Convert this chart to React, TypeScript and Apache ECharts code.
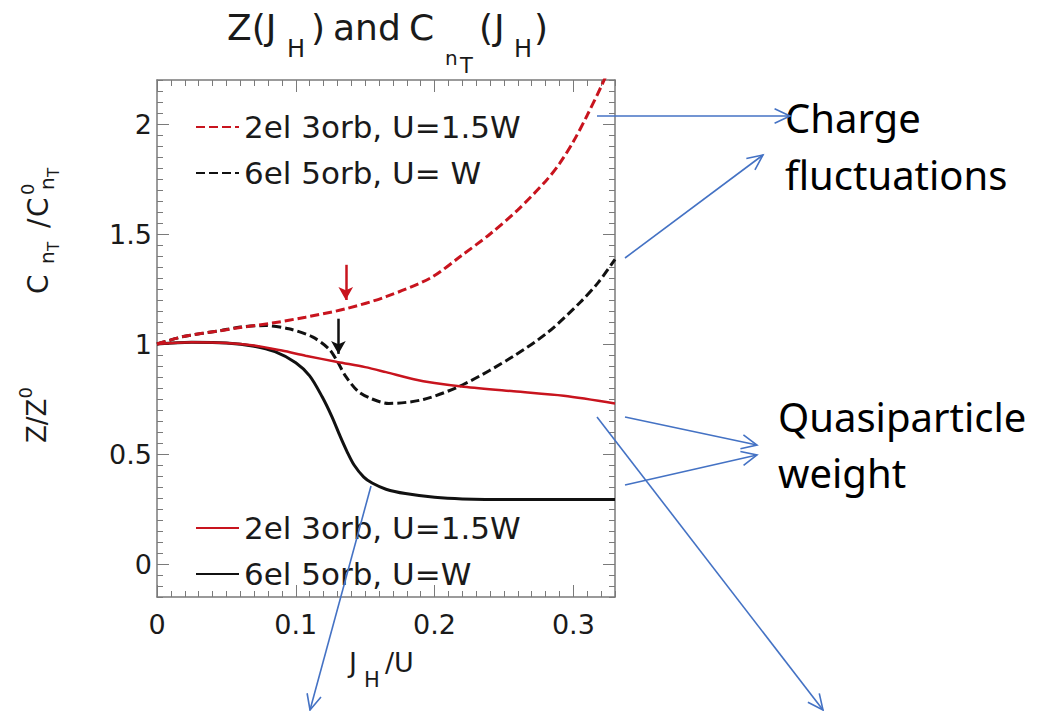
import React, { useEffect, useRef } from "react";
import * as echarts from "echarts";

// C_nT / C0_nT, 2el 3orb, U = 1.5W (red dashed)
const chargeRedX = [0, 0.02, 0.045, 0.06, 0.083, 0.107, 0.136, 0.165, 0.197, 0.219, 0.24, 0.26, 0.28, 0.29, 0.3, 0.31, 0.32, 0.33];
const chargeRedY = [1.0, 1.035, 1.06, 1.075, 1.095, 1.122, 1.16, 1.215, 1.3, 1.4, 1.5, 1.61, 1.74, 1.82, 1.92, 2.04, 2.17, 2.31];

// C_nT / C0_nT, 6el 5orb, U = W (black dashed)
const chargeBlackX = [0, 0.02, 0.045, 0.06, 0.078, 0.095, 0.112, 0.124, 0.13, 0.136, 0.145, 0.155, 0.167, 0.192, 0.221, 0.257, 0.282, 0.305, 0.318, 0.33];
const chargeBlackY = [1.0, 1.035, 1.06, 1.077, 1.084, 1.069, 1.032, 0.977, 0.92, 0.853, 0.784, 0.75, 0.73, 0.748, 0.817, 0.945, 1.055, 1.19, 1.28, 1.385];

// Z / Z0, 2el 3orb, U = 1.5W (red solid)
const weightRedX = [0, 0.025, 0.05, 0.07, 0.09, 0.107, 0.13, 0.15, 0.165, 0.185, 0.2, 0.221, 0.257, 0.293, 0.33];
const weightRedY = [1.0, 1.008, 1.005, 0.993, 0.97, 0.947, 0.918, 0.895, 0.872, 0.84, 0.823, 0.806, 0.785, 0.765, 0.73];

// Z / Z0, 6el 5orb, U = W (black solid)
const weightBlackX = [0, 0.025, 0.05, 0.07, 0.085, 0.1, 0.11, 0.119, 0.126, 0.132, 0.137, 0.142, 0.149, 0.155, 0.165, 0.179, 0.2, 0.22, 0.26, 0.33];
const weightBlackY = [1.0, 1.008, 1.005, 0.99, 0.965, 0.915, 0.855, 0.76, 0.67, 0.58, 0.51, 0.45, 0.395, 0.368, 0.34, 0.32, 0.303, 0.296, 0.293, 0.293];

// small markers pointing at the onset on each dashed curve: [x, yFrom, yTo]
const redOnsetArrow = [0.136, 1.36, 1.2];
const blackOnsetArrow = [0.1307, 1.115, 0.955];

const xMajorTicks = [0, 0.1, 0.2, 0.3];
const yMajorTicks = [0, 0.5, 1, 1.5, 2];

const legendLabels: Record<string, string> = {
  cRed: "2el 3orb, U=1.5W",
  cBlack: "6el 5orb, U= W",
  zRed: "2el 3orb, U=1.5W",
  zBlack: "6el 5orb, U=W",
};

const PLOT_FONT = "DejaVu Sans";
const NOTE_FONT = "Noto Sans";
const RED = "#c8141e";
const BLACK = "#111111";
const FRAME = "#7a7a7a";
const NOTE_BLUE = "#4472C4";
const INK = "#1a1a1a";

const pairs = (xs: number[], ys: number[]) => xs.map((x, i) => [x, ys[i]]);

let measureCtx: CanvasRenderingContext2D | null = null;
function measure(t: string, size: number, family: string) {
  if (!measureCtx) measureCtx = document.createElement("canvas").getContext("2d");
  if (!measureCtx) return t.length * size * 0.6;
  measureCtx.font = `${size}px "${family}"`;
  return measureCtx.measureText(t).width;
}

type Piece = { t: string; s: number; dy?: number; x?: number; gap?: number; hold?: boolean };

// lay out a run of text pieces (sub/superscripts) along a baseline
function run(pieces: Piece[], x0: number, baseline: number, family: string, color: string, k: number) {
  let cursor = x0;
  const out: any[] = [];
  for (const p of pieces) {
    const x = p.x !== undefined ? p.x : cursor;
    out.push({
      type: "text",
      x,
      y: baseline + (p.dy || 0) - k * p.s,
      silent: true,
      style: {
        text: p.t,
        fontSize: p.s,
        fontFamily: family,
        fill: color,
        align: "left",
        verticalAlign: "middle",
        textAlign: "left",
        textVerticalAlign: "middle",
      },
    });
    if (!p.hold) cursor = x + measure(p.t, p.s, family) + (p.gap || 0);
  }
  return out;
}

function arrow(x1: number, y1: number, x2: number, y2: number) {
  const ang = Math.atan2(y1 - y2, x1 - x2);
  const len = 17;
  const spread = (25 * Math.PI) / 180;
  const a = [x2 + len * Math.cos(ang + spread), y2 + len * Math.sin(ang + spread)];
  const b = [x2 + len * Math.cos(ang - spread), y2 + len * Math.sin(ang - spread)];
  return [
    { type: "line", z: 100, silent: true, shape: { x1, y1, x2, y2 }, style: { stroke: NOTE_BLUE, lineWidth: 1.6 } },
    { type: "polyline", z: 100, silent: true, shape: { points: [a, [x2, y2], b] }, style: { stroke: NOTE_BLUE, lineWidth: 1.6, fill: null } },
  ];
}

function buildOption() {
  const k = 0.35;
  const title = run(
    [
      { t: "Z(J", s: 36, x: 227 },
      { t: "H", s: 24, dy: 17, x: 287 },
      { t: ")", s: 36, x: 311 },
      { t: "and", s: 36, x: 333 },
      { t: "C", s: 36, x: 409 },
      { t: "n", s: 20, dy: 25, x: 445 },
      { t: "T", s: 21, dy: 33, x: 460 },
      { t: "(", s: 36, x: 479 },
      { t: "J", s: 36, x: 494 },
      { t: "H", s: 24, dy: 17, x: 514 },
      { t: ")", s: 36, x: 534 },
    ],
    0, 40, PLOT_FONT, INK, k
  );

  const xName = run(
    [
      { t: "J", s: 27, x: 349 },
      { t: "H", s: 21, dy: 15, x: 364 },
      { t: "/U", s: 27, x: 385 },
    ],
    0, 672, PLOT_FONT, INK, k
  );

  const cLabel = {
    type: "group",
    x: 48,
    y: 294,
    rotation: Math.PI / 2,
    children: run(
      [
        { t: "C", s: 28, x: 0 },
        { t: "n", s: 20, dy: 6, x: 30 },
        { t: "T", s: 15, dy: 11, x: 43 },
        { t: "/", s: 28, x: 66 },
        { t: "C", s: 28, x: 77 },
        { t: "0", s: 18, dy: -14, x: 99 },
        { t: "n", s: 20, dy: 6, x: 104 },
        { t: "T", s: 15, dy: 11, x: 117 },
      ],
      0, 0, PLOT_FONT, INK, k
    ),
  };

  const zLabel = {
    type: "group",
    x: 46,
    y: 443,
    rotation: Math.PI / 2,
    children: run(
      [
        { t: "Z/Z", s: 26 },
        { t: "0", s: 18, dy: -14 },
      ],
      0, 0, PLOT_FONT, INK, k
    ),
  };

  const kn = 0.39;
  const notes = [
    ...run([{ t: "Charge", s: 40 }], 785, 133, NOTE_FONT, "#000", kn),
    ...run([{ t: "fluctuations", s: 40 }], 785, 190, NOTE_FONT, "#000", kn),
    ...run([{ t: "Quasiparticle", s: 40 }], 778, 432, NOTE_FONT, "#000", kn),
    ...run([{ t: "weight", s: 40 }], 778, 488, NOTE_FONT, "#000", kn),
  ];

  const arrows = [
    ...arrow(597, 116, 790, 116),
    ...arrow(625, 258, 763, 155),
    ...arrow(625, 417, 757, 445),
    ...arrow(625, 485, 757, 455),
    ...arrow(597, 417, 823, 710),
    ...arrow(371, 486, 310, 710),
  ];

  const frameLine = { show: true, onZero: false, lineStyle: { color: FRAME, width: 1.5 } };
  const hiddenLine = { show: false, onZero: false };
  const tickStyle = { color: FRAME, width: 1 };
  const labelStyle = { fontFamily: PLOT_FONT, fontSize: 27, color: INK };

  const xBase = { type: "value", min: 0, max: 0.33, splitLine: { show: false }, gridIndex: 0 };
  const yBase = { type: "value", min: -0.15, max: 2.2, splitLine: { show: false }, gridIndex: 0 };

  const xAxis = [
    {
      ...xBase,
      position: "bottom",
      axisLine: frameLine,
      axisTick: { show: true, inside: true, length: 12, customValues: xMajorTicks, lineStyle: tickStyle },
      axisLabel: { show: true, customValues: xMajorTicks, margin: 14, ...labelStyle },
    },
    {
      ...xBase,
      position: "bottom",
      interval: 0.01,
      axisLine: hiddenLine,
      axisTick: { show: true, inside: true, length: 6, lineStyle: tickStyle },
      axisLabel: { show: false },
    },
    {
      ...xBase,
      position: "top",
      axisLine: frameLine,
      axisTick: { show: true, inside: true, length: 12, customValues: xMajorTicks, lineStyle: tickStyle },
      axisLabel: { show: false },
    },
    {
      ...xBase,
      position: "top",
      interval: 0.01,
      axisLine: hiddenLine,
      axisTick: { show: true, inside: true, length: 6, lineStyle: tickStyle },
      axisLabel: { show: false },
    },
  ];

  const yAxis = [
    {
      ...yBase,
      position: "left",
      axisLine: frameLine,
      axisTick: { show: true, inside: true, length: 12, customValues: yMajorTicks, lineStyle: tickStyle },
      axisLabel: { show: true, customValues: yMajorTicks, margin: 5, ...labelStyle },
    },
    {
      ...yBase,
      position: "left",
      interval: 0.05,
      axisLine: hiddenLine,
      axisTick: { show: true, inside: true, length: 6, lineStyle: tickStyle },
      axisLabel: { show: false },
    },
    {
      ...yBase,
      position: "right",
      axisLine: frameLine,
      axisTick: { show: true, inside: true, length: 12, customValues: yMajorTicks, lineStyle: tickStyle },
      axisLabel: { show: false },
    },
    {
      ...yBase,
      position: "right",
      interval: 0.05,
      axisLine: hiddenLine,
      axisTick: { show: true, inside: true, length: 6, lineStyle: tickStyle },
      axisLabel: { show: false },
    },
  ];

  const lineBase = { type: "line", xAxisIndex: 0, yAxisIndex: 0, symbol: "none", smooth: 0.3, silent: true };

  const onsetMark = (spec: number[], color: string) => ({
    silent: true,
    symbol: ["none", "arrow"],
    symbolSize: [11, 13],
    label: { show: false },
    lineStyle: { type: "solid", color, width: 2.5 },
    itemStyle: { color },
    data: [[{ coord: [spec[0], spec[1]] }, { coord: [spec[0], spec[2]] }]],
  });

  const legendBase = {
    orient: "vertical",
    left: 190,
    itemWidth: 43,
    itemHeight: 14,
    itemGap: 14,
    selectedMode: false,
    itemStyle: { opacity: 0 },
    textStyle: { fontFamily: PLOT_FONT, fontSize: 31, color: INK, lineHeight: 32 },
    formatter: (name: string) => legendLabels[name] || name,
  };

  return {
    animation: false,
    backgroundColor: "#ffffff",
    grid: { left: 157, right: 424, top: 80, bottom: 114, containLabel: false },
    xAxis,
    yAxis,
    legend: [
      { ...legendBase, top: 106, data: ["cRed", "cBlack"] },
      { ...legendBase, top: 507, data: ["zRed", "zBlack"] },
    ],
    series: [
      {
        ...lineBase,
        name: "cRed",
        data: pairs(chargeRedX, chargeRedY),
        lineStyle: { color: RED, width: 3, type: [9, 4] },
        itemStyle: { color: RED },
        markLine: onsetMark(redOnsetArrow, RED),
        z: 3,
      },
      {
        ...lineBase,
        name: "cBlack",
        data: pairs(chargeBlackX, chargeBlackY),
        lineStyle: { color: BLACK, width: 3, type: [9, 4] },
        itemStyle: { color: BLACK },
        markLine: onsetMark(blackOnsetArrow, BLACK),
        z: 2,
      },
      {
        ...lineBase,
        name: "zRed",
        data: pairs(weightRedX, weightRedY),
        lineStyle: { color: RED, width: 2.5, type: "solid" },
        itemStyle: { color: RED },
        z: 4,
      },
      {
        ...lineBase,
        name: "zBlack",
        data: pairs(weightBlackX, weightBlackY),
        lineStyle: { color: BLACK, width: 3, type: "solid" },
        itemStyle: { color: BLACK },
        z: 2,
      },
    ],
    graphic: [...title, ...xName, cLabel, zLabel, ...notes, ...arrows],
  };
}

export default function App() {
  const ref = useRef<HTMLDivElement>(null);
  useEffect(() => {
    if (!ref.current) return;
    const chart = echarts.init(ref.current, null, { renderer: "svg" });
    chart.setOption(buildOption() as any);
    return () => chart.dispose();
  }, []);
  return (
    <div
      ref={ref}
      style={{ position: "absolute", left: 0, top: 0, width: 1039, height: 711, background: "#ffffff" }}
    />
  );
}
